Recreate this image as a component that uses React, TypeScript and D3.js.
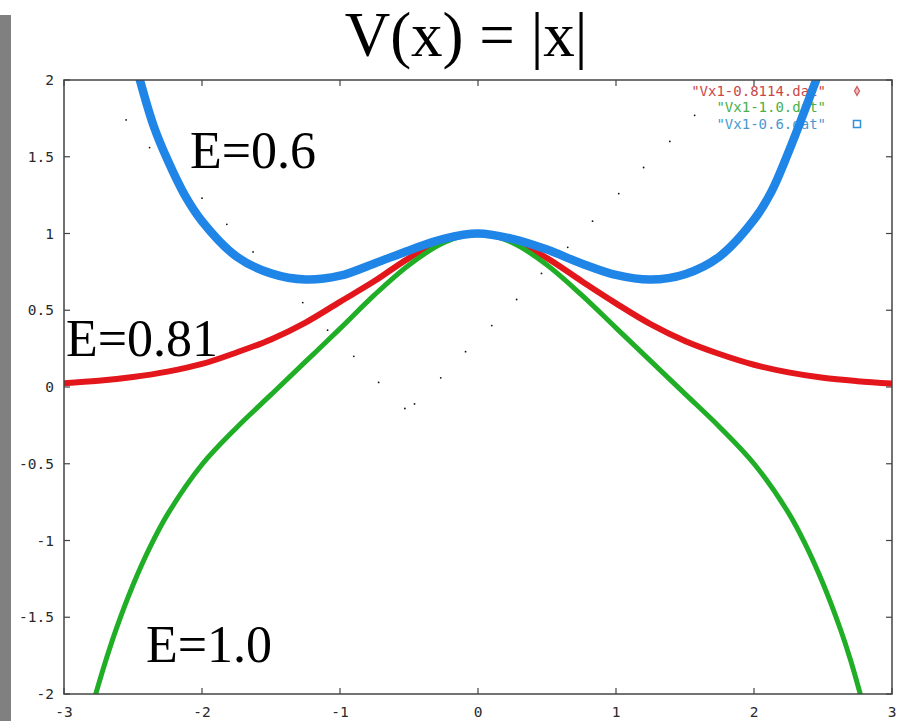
import React, { useRef, useEffect } from 'react';
import * as d3 from 'd3';

const redX = [-3, -2.75, -2.5, -2.25, -2, -1.75, -1.5, -1.25, -1, -0.75, -0.5, -0.25, 0, 0.25, 0.5, 0.75, 1, 1.25, 1.5, 1.75, 2, 2.25, 2.5, 2.75, 3];
const redY = [0.025, 0.04, 0.065, 0.1, 0.15, 0.225, 0.31, 0.42, 0.555, 0.69, 0.84, 0.955, 1, 0.955, 0.84, 0.69, 0.545, 0.41, 0.3, 0.215, 0.145, 0.095, 0.06, 0.038, 0.022];

const greenX = [-2.77, -2.7, -2.625, -2.5, -2.375, -2.25, -2, -1.75, -1.5, -1.25, -1, -0.75, -0.5, -0.25, 0, 0.25, 0.5, 0.75, 1, 1.25, 1.5, 1.75, 2, 2.25, 2.375, 2.5, 2.625, 2.7, 2.77];
const greenY = [-2.0, -1.79, -1.585, -1.29, -1.04, -0.83, -0.505, -0.265, -0.05, 0.165, 0.38, 0.6, 0.795, 0.94, 1, 0.94, 0.795, 0.6, 0.385, 0.17, -0.045, -0.26, -0.5, -0.82, -1.03, -1.28, -1.575, -1.78, -2.0];

const blueX = [-2.45, -2.35, -2.25, -2.125, -2, -1.75, -1.5, -1.25, -1, -0.75, -0.5, -0.25, 0, 0.25, 0.5, 0.75, 1, 1.25, 1.5, 1.75, 2, 2.125, 2.25, 2.35, 2.45];
const blueY = [2.0, 1.7, 1.48, 1.25, 1.08, 0.85, 0.74, 0.7, 0.725, 0.805, 0.89, 0.965, 1, 0.965, 0.895, 0.805, 0.73, 0.7, 0.735, 0.85, 1.09, 1.27, 1.53, 1.76, 2.0];

// the faint dotted V in the background
const dotX = [-2.55, -2.38, -2.2, -2.0, -1.82, -1.63, -1.45, -1.27, -1.09, -0.9, -0.72, -0.53, -0.46, -0.27, -0.09, 0.1, 0.28, 0.46, 0.65, 0.83, 1.02, 1.2, 1.39, 1.57];
const dotY = [1.74, 1.56, 1.4, 1.23, 1.06, 0.88, 0.71, 0.55, 0.37, 0.2, 0.03, -0.14, -0.11, 0.06, 0.23, 0.4, 0.57, 0.74, 0.91, 1.08, 1.26, 1.43, 1.6, 1.77];

const xTicks = [-3, -2, -1, 0, 1, 2, 3];
const yTicks = [-2, -1.5, -1, -0.5, 0, 0.5, 1, 1.5, 2];

const legendNames = ['"Vx1-0.8114.dat"', '"Vx1-1.0.dat"', '"Vx1-0.6.dat"'];
const legendText = ['#c84848', '#48b048', '#4898d0'];
const labels = ['E=0.6', 'E=0.81', 'E=1.0'];

const W = 906;
const H = 721;

const App = () => {
    const svgRef = useRef<SVGSVGElement>(null);

    useEffect(() => {
        const svg = d3.select(svgRef.current);
        svg.selectAll('*').remove();

        const x = d3.scaleLinear().domain([-3, 3]).range([64, 892]);
        const y = d3.scaleLinear().domain([-2, 2]).range([694, 80]);

        svg.append('rect').attr('width', W).attr('height', H).attr('fill', '#fff');
        // gray strip on the left edge
        svg.append('rect').attr('x', 0).attr('y', 15).attr('width', 11).attr('height', H - 15).attr('fill', '#808080');

        svg.append('defs').append('clipPath').attr('id', 'plot')
            .append('rect')
            .attr('x', x(-3)).attr('y', y(2))
            .attr('width', x(3) - x(-3)).attr('height', y(-2) - y(2));

        const mono = 'DejaVu Sans Mono, monospace';
        const fmt = (d: number) => d3.format('')(d).replace('\u2212', '-');

        // tick labels
        svg.selectAll('.yl').data(yTicks).join('text')
            .attr('x', 54).attr('y', d => y(d)).attr('dy', '0.35em')
            .attr('text-anchor', 'end').attr('font-family', mono).attr('font-size', 14.5)
            .attr('fill', '#2a2a2a').text(fmt);
        svg.selectAll('.xl').data(xTicks).join('text')
            .attr('x', d => x(d)).attr('y', 712).attr('dy', '0.35em')
            .attr('text-anchor', 'middle').attr('font-family', mono).attr('font-size', 14.5)
            .attr('fill', '#2a2a2a').text(fmt);

        // ticks on all four sides, pointing in
        const tk = 6;
        const g = svg.append('g').attr('stroke', '#444').attr('stroke-width', 1.2);
        xTicks.forEach(t => {
            g.append('line').attr('x1', x(t)).attr('x2', x(t)).attr('y1', y(-2)).attr('y2', y(-2) - tk);
            g.append('line').attr('x1', x(t)).attr('x2', x(t)).attr('y1', y(2)).attr('y2', y(2) + tk);
        });
        yTicks.forEach(t => {
            g.append('line').attr('x1', x(-3)).attr('x2', x(-3) + tk).attr('y1', y(t)).attr('y2', y(t));
            g.append('line').attr('x1', x(3)).attr('x2', x(3) - tk).attr('y1', y(t)).attr('y2', y(t));
        });

        // legend
        const lg = svg.append('g');
        legendNames.forEach((n, i) => {
            lg.append('text').attr('x', 826).attr('y', 91 + i * 16.5).attr('dy', '0.35em')
                .attr('text-anchor', 'end').attr('font-family', mono).attr('font-size', 14)
                .attr('fill', legendText[i]).text(n);
        });
        lg.append('path').attr('d', d3.symbol(d3.symbolDiamond, 22)())
            .attr('transform', 'translate(857,91)').attr('fill', '#f0c0c0').attr('stroke', '#d06060').attr('stroke-width', 1.3);
        lg.append('path').attr('d', d3.symbol(d3.symbolPlus, 30)())
            .attr('transform', 'translate(857,107.5)').attr('fill', '#30b030');
        lg.append('rect').attr('x', 853.5).attr('y', 120.5).attr('width', 7).attr('height', 7)
            .attr('fill', 'none').attr('stroke', '#3090d8').attr('stroke-width', 1.5);

        const plot = svg.append('g').attr('clip-path', 'url(#plot)');

        plot.selectAll('.dot').data(dotX).join('circle')
            .attr('cx', d => x(d)).attr('cy', (d, i) => y(dotY[i])).attr('r', 0.9).attr('fill', '#111');

        const line = d3.line<number>()
            .x(d => x(d))
            .curve(d3.curveCatmullRom.alpha(0.5));

        const series = [
            { xs: redX, ys: redY, color: '#e3161b', w: 6 },
            { xs: greenX, ys: greenY, color: '#1fae26', w: 5 },
            { xs: blueX, ys: blueY, color: '#1f85e6', w: 8.5 },
        ];
        series.forEach(s => {
            plot.append('path')
                .attr('d', line.y((d, i) => y(s.ys[i]))(s.xs))
                .attr('fill', 'none').attr('stroke', s.color)
                .attr('stroke-width', s.w).attr('stroke-linecap', 'round');
        });

        // frame
        svg.append('rect')
            .attr('x', x(-3)).attr('y', y(2))
            .attr('width', x(3) - x(-3)).attr('height', y(-2) - y(2))
            .attr('fill', 'none').attr('stroke', '#444').attr('stroke-width', 1.5);

        // title and hand-placed labels
        const serif = 'Liberation Serif, Times New Roman, serif';
        svg.append('text').attr('x', 466).attr('y', 56).attr('text-anchor', 'middle')
            .attr('font-family', serif).attr('font-size', 63).text('V(x) = |x|');

        const labelPos = [[190, 168], [66, 356], [146, 662]];
        labels.forEach((t, i) => {
            svg.append('text').attr('x', labelPos[i][0]).attr('y', labelPos[i][1])
                .attr('font-family', serif).attr('font-size', 52).text(t);
        });
    }, []);

    return (
        <svg ref={svgRef} width={W} height={H} style={{ position: 'absolute', left: 0, top: 0 }}></svg>
    );
};

export default App;
